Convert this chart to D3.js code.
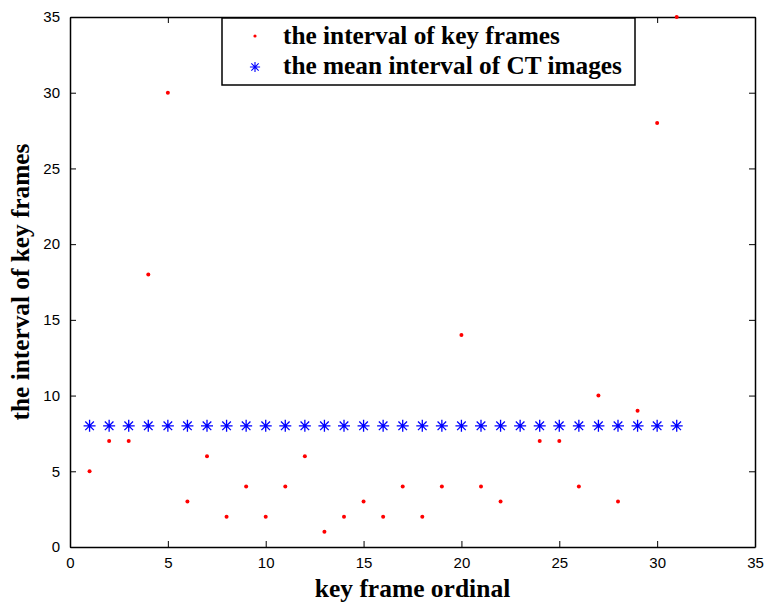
<!DOCTYPE html>
<html>
<head>
<meta charset="utf-8">
<script src="https://cdn.jsdelivr.net/npm/d3@7"></script>
<style>
  body { margin: 0; background: #fff; }
  svg { display: block; }
</style>
</head>
<body>
<div id="chart"></div>
<script>
// key frame intervals
const ordinals = d3.range(1, 32);
const keyFrameIntervals = [5, 7, 7, 18, 30, 3, 6, 2, 4, 2, 4, 6, 1, 2, 3, 2, 4, 2, 4, 14, 4, 3, 8, 7, 7, 4, 10, 3, 9, 28, 35];
const meanIntervals = ordinals.map(() => 8);
const xTicks = [0, 5, 10, 15, 20, 25, 30, 35];
const yTicks = [0, 5, 10, 15, 20, 25, 30, 35];
const legendLabels = ['the interval of key frames', 'the mean interval of CT images'];

const width = 764, height = 603;
const margin = { top: 17, right: 9, bottom: 56, left: 70 };

const svg = d3.select('#chart').append('svg')
  .attr('width', width)
  .attr('height', height);

const x = d3.scaleLinear().domain([0, 35]).range([margin.left, width - margin.right]);
const y = d3.scaleLinear().domain([0, 35]).range([height - margin.bottom, margin.top]);

const tickFont = '"Liberation Sans", Arial, sans-serif';
const labelFont = '"Liberation Serif", "Times New Roman", serif';

function styleAxis(g) {
  g.selectAll('path').attr('stroke', '#000').attr('stroke-width', 1.5);
  g.selectAll('line').attr('stroke', '#000').attr('stroke-width', 1);
  g.selectAll('text').attr('font-family', tickFont).attr('font-size', 15).attr('fill', '#000');
}

// bottom + left with labels, ticks pointing inward
svg.append('g')
  .attr('transform', `translate(0,${y(0)})`)
  .call(d3.axisBottom(x).tickValues(xTicks).tickSizeInner(-6).tickSizeOuter(0).tickPadding(10))
  .call(styleAxis);

svg.append('g')
  .attr('transform', `translate(${x(0)},0)`)
  .call(d3.axisLeft(y).tickValues(yTicks).tickSizeInner(-6).tickSizeOuter(0).tickPadding(10))
  .call(styleAxis);

// top + right, ticks only
svg.append('g')
  .attr('transform', `translate(0,${y(35)})`)
  .call(d3.axisTop(x).tickValues(xTicks).tickSizeInner(-6).tickSizeOuter(0).tickFormat(''))
  .call(styleAxis);

svg.append('g')
  .attr('transform', `translate(${x(35)},0)`)
  .call(d3.axisRight(y).tickValues(yTicks).tickSizeInner(-6).tickSizeOuter(0).tickFormat(''))
  .call(styleAxis);

// key frame dots (under the stars)
svg.append('g')
  .selectAll('circle')
  .data(ordinals)
  .join('circle')
  .attr('cx', d => x(d))
  .attr('cy', (d, i) => y(keyFrameIntervals[i]))
  .attr('r', 2)
  .attr('fill', '#ff0000');

// mean interval stars
const star = 'M-6,0H6M0,-6V6M-4.3,-4.3L4.3,4.3M-4.3,4.3L4.3,-4.3';
const starG = svg.append('g');
starG.selectAll('circle')
  .data(ordinals)
  .join('circle')
  .attr('cx', d => x(d))
  .attr('cy', (d, i) => y(meanIntervals[i]))
  .attr('r', 6)
  .attr('fill', '#fff');
starG.selectAll('path')
  .data(ordinals)
  .join('path')
  .attr('d', star)
  .attr('transform', (d, i) => `translate(${x(d)},${y(meanIntervals[i])})`)
  .attr('stroke', '#0000ff')
  .attr('stroke-width', 1.3)
  .attr('fill', 'none');

// legend
const legend = svg.append('g').attr('transform', 'translate(222,18)');
legend.append('rect')
  .attr('width', 413)
  .attr('height', 67)
  .attr('fill', '#fff')
  .attr('stroke', '#000')
  .attr('stroke-width', 1.5);

legend.append('circle').attr('cx', 33).attr('cy', 18).attr('r', 1.6).attr('fill', '#ff0000');
legend.append('path').attr('d', star).attr('transform', 'translate(33,49) scale(0.85)')
  .attr('stroke', '#0000ff').attr('stroke-width', 1.3).attr('fill', 'none');

legend.selectAll('text')
  .data(legendLabels)
  .join('text')
  .attr('x', 61)
  .attr('y', (d, i) => 26 + i * 30)
  .attr('font-family', labelFont)
  .attr('font-weight', 'bold')
  .attr('font-size', 25.3)
  .text(d => d);

// axis titles
svg.append('text')
  .attr('x', x(17.5))
  .attr('y', 597)
  .attr('text-anchor', 'middle')
  .attr('font-family', labelFont)
  .attr('font-weight', 'bold')
  .attr('font-size', 25.5)
  .text('key frame ordinal');

svg.append('text')
  .attr('transform', `translate(29,${y(17.5)}) rotate(-90)`)
  .attr('text-anchor', 'middle')
  .attr('font-family', labelFont)
  .attr('font-weight', 'bold')
  .attr('font-size', 25.3)
  .text('the interval of key frames');
</script>
</body>
</html>
